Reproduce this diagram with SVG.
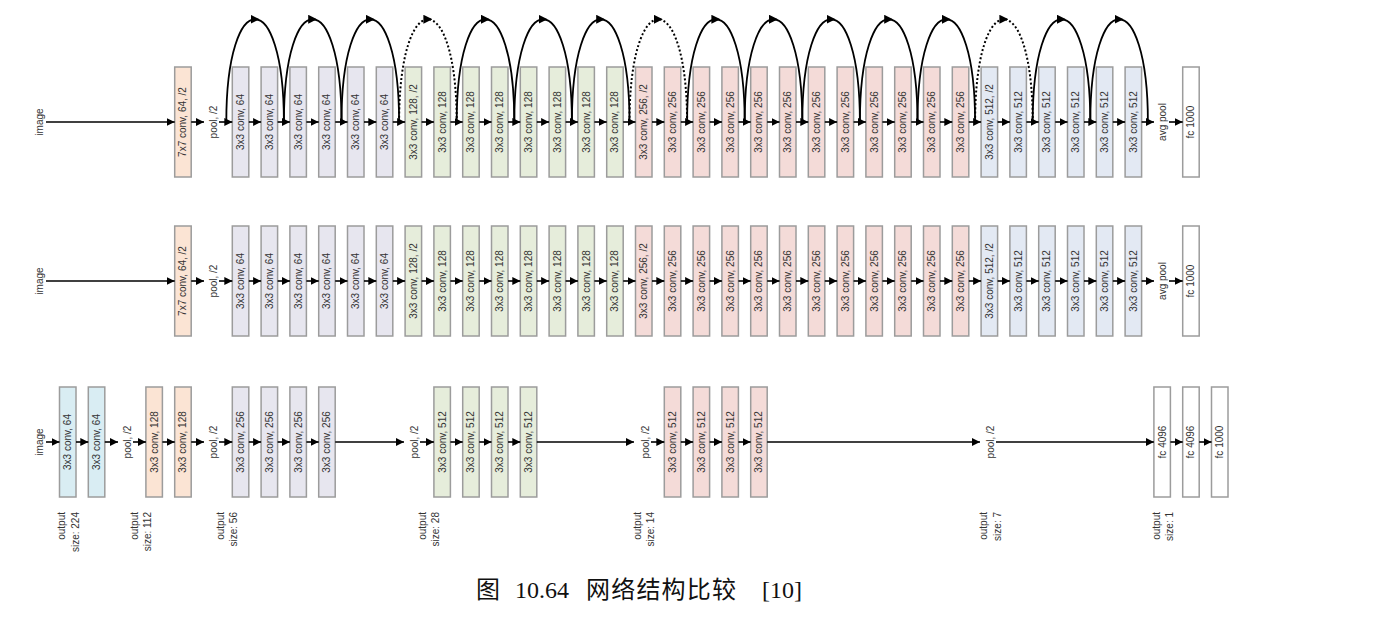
<svg xmlns="http://www.w3.org/2000/svg" width="1377" height="621" viewBox="0 0 1377 621">
<style>
.n rect{stroke:#9c9c9c;stroke-width:1.5}
.n text,.lb{font-family:"Liberation Sans",Arial,sans-serif;font-size:10px;fill:#333;text-anchor:middle;dominant-baseline:central}
.g64 rect{fill:#e7e6ef}
.g128 rect{fill:#e6eddb}
.g256 rect{fill:#f4dbd8}
.g512 rect{fill:#e3e9f3}
.g7 rect{fill:#fbe4d4}
.gcy rect{fill:#d9edf3}
.gfc rect{fill:#ffffff}
.a{stroke:#000;stroke-width:1.6;fill:none;marker-end:url(#ah)}
.arc{stroke:#000;stroke-width:1.8;fill:none;marker-mid:url(#am)}
.dot{stroke-dasharray:2 2.2;stroke-width:2}
.o{font-family:"Liberation Sans",Arial,sans-serif;font-size:10px;fill:#333;text-anchor:end;dominant-baseline:central}
.cap{font-family:"Liberation Serif","Noto Sans CJK SC",serif;font-size:24px;fill:#111}
.cj{font-family:"Noto Sans CJK SC",sans-serif;font-size:24px;letter-spacing:1.2px}
</style>
<defs>
<marker id="ah" viewBox="0 0 10 10" refX="10" refY="5" markerWidth="8" markerHeight="8" markerUnits="userSpaceOnUse" orient="auto"><path d="M0,0 L10,5 L0,10 z" fill="#000"/></marker>
<marker id="am" viewBox="0 0 10 10" refX="5" refY="5" markerWidth="9" markerHeight="9" markerUnits="userSpaceOnUse" orient="auto"><path d="M0,0 L10,5 L0,10 z" fill="#000"/></marker>
</defs>

<!-- ================= TOP ROW (residual) ================= -->
<g id="t-image"><text class="lb" transform="translate(39,122) rotate(-90)">image</text></g>
<g id="t-conv7" class="n g7" transform="translate(174.7,67)"><rect width="16.5" height="110"/><text transform="translate(8.25,55) rotate(-90)">7x7 conv, 64, /2</text></g>
<g id="t-pool"><text class="lb" transform="translate(213,122) rotate(-90)">pool, /2</text></g>
<g id="t-c0" class="n g64" transform="translate(232.3,67)"><rect width="16.5" height="110"/><text transform="translate(8.25,55) rotate(-90)">3x3 conv, 64</text></g>
<g id="t-c1" class="n g64" transform="translate(261.1,67)"><rect width="16.5" height="110"/><text transform="translate(8.25,55) rotate(-90)">3x3 conv, 64</text></g>
<g id="t-c2" class="n g64" transform="translate(289.9,67)"><rect width="16.5" height="110"/><text transform="translate(8.25,55) rotate(-90)">3x3 conv, 64</text></g>
<g id="t-c3" class="n g64" transform="translate(318.7,67)"><rect width="16.5" height="110"/><text transform="translate(8.25,55) rotate(-90)">3x3 conv, 64</text></g>
<g id="t-c4" class="n g64" transform="translate(347.5,67)"><rect width="16.5" height="110"/><text transform="translate(8.25,55) rotate(-90)">3x3 conv, 64</text></g>
<g id="t-c5" class="n g64" transform="translate(376.3,67)"><rect width="16.5" height="110"/><text transform="translate(8.25,55) rotate(-90)">3x3 conv, 64</text></g>
<g id="t-c6" class="n g128" transform="translate(405.1,67)"><rect width="16.5" height="110"/><text transform="translate(8.25,55) rotate(-90)">3x3 conv, 128, /2</text></g>
<g id="t-c7" class="n g128" transform="translate(433.9,67)"><rect width="16.5" height="110"/><text transform="translate(8.25,55) rotate(-90)">3x3 conv, 128</text></g>
<g id="t-c8" class="n g128" transform="translate(462.7,67)"><rect width="16.5" height="110"/><text transform="translate(8.25,55) rotate(-90)">3x3 conv, 128</text></g>
<g id="t-c9" class="n g128" transform="translate(491.5,67)"><rect width="16.5" height="110"/><text transform="translate(8.25,55) rotate(-90)">3x3 conv, 128</text></g>
<g id="t-c10" class="n g128" transform="translate(520.3,67)"><rect width="16.5" height="110"/><text transform="translate(8.25,55) rotate(-90)">3x3 conv, 128</text></g>
<g id="t-c11" class="n g128" transform="translate(549.1,67)"><rect width="16.5" height="110"/><text transform="translate(8.25,55) rotate(-90)">3x3 conv, 128</text></g>
<g id="t-c12" class="n g128" transform="translate(577.9,67)"><rect width="16.5" height="110"/><text transform="translate(8.25,55) rotate(-90)">3x3 conv, 128</text></g>
<g id="t-c13" class="n g128" transform="translate(606.7,67)"><rect width="16.5" height="110"/><text transform="translate(8.25,55) rotate(-90)">3x3 conv, 128</text></g>
<g id="t-c14" class="n g256" transform="translate(635.5,67)"><rect width="16.5" height="110"/><text transform="translate(8.25,55) rotate(-90)">3x3 conv, 256, /2</text></g>
<g id="t-c15" class="n g256" transform="translate(664.3,67)"><rect width="16.5" height="110"/><text transform="translate(8.25,55) rotate(-90)">3x3 conv, 256</text></g>
<g id="t-c16" class="n g256" transform="translate(693.1,67)"><rect width="16.5" height="110"/><text transform="translate(8.25,55) rotate(-90)">3x3 conv, 256</text></g>
<g id="t-c17" class="n g256" transform="translate(721.9,67)"><rect width="16.5" height="110"/><text transform="translate(8.25,55) rotate(-90)">3x3 conv, 256</text></g>
<g id="t-c18" class="n g256" transform="translate(750.7,67)"><rect width="16.5" height="110"/><text transform="translate(8.25,55) rotate(-90)">3x3 conv, 256</text></g>
<g id="t-c19" class="n g256" transform="translate(779.5,67)"><rect width="16.5" height="110"/><text transform="translate(8.25,55) rotate(-90)">3x3 conv, 256</text></g>
<g id="t-c20" class="n g256" transform="translate(808.3,67)"><rect width="16.5" height="110"/><text transform="translate(8.25,55) rotate(-90)">3x3 conv, 256</text></g>
<g id="t-c21" class="n g256" transform="translate(837.1,67)"><rect width="16.5" height="110"/><text transform="translate(8.25,55) rotate(-90)">3x3 conv, 256</text></g>
<g id="t-c22" class="n g256" transform="translate(865.9,67)"><rect width="16.5" height="110"/><text transform="translate(8.25,55) rotate(-90)">3x3 conv, 256</text></g>
<g id="t-c23" class="n g256" transform="translate(894.7,67)"><rect width="16.5" height="110"/><text transform="translate(8.25,55) rotate(-90)">3x3 conv, 256</text></g>
<g id="t-c24" class="n g256" transform="translate(923.5,67)"><rect width="16.5" height="110"/><text transform="translate(8.25,55) rotate(-90)">3x3 conv, 256</text></g>
<g id="t-c25" class="n g256" transform="translate(952.3,67)"><rect width="16.5" height="110"/><text transform="translate(8.25,55) rotate(-90)">3x3 conv, 256</text></g>
<g id="t-c26" class="n g512" transform="translate(981.1,67)"><rect width="16.5" height="110"/><text transform="translate(8.25,55) rotate(-90)">3x3 conv, 512, /2</text></g>
<g id="t-c27" class="n g512" transform="translate(1009.9,67)"><rect width="16.5" height="110"/><text transform="translate(8.25,55) rotate(-90)">3x3 conv, 512</text></g>
<g id="t-c28" class="n g512" transform="translate(1038.7,67)"><rect width="16.5" height="110"/><text transform="translate(8.25,55) rotate(-90)">3x3 conv, 512</text></g>
<g id="t-c29" class="n g512" transform="translate(1067.5,67)"><rect width="16.5" height="110"/><text transform="translate(8.25,55) rotate(-90)">3x3 conv, 512</text></g>
<g id="t-c30" class="n g512" transform="translate(1096.3,67)"><rect width="16.5" height="110"/><text transform="translate(8.25,55) rotate(-90)">3x3 conv, 512</text></g>
<g id="t-c31" class="n g512" transform="translate(1125.1,67)"><rect width="16.5" height="110"/><text transform="translate(8.25,55) rotate(-90)">3x3 conv, 512</text></g>
<g id="t-avgpool"><text class="lb" transform="translate(1162,122) rotate(-90)">avg pool</text></g>
<g id="t-fc" class="n gfc" transform="translate(1182.7,67)"><rect width="16.5" height="110"/><text transform="translate(8.25,55) rotate(-90)">fc 1000</text></g>

<!-- ================= MIDDLE ROW (plain) ================= -->
<g id="m-image"><text class="lb" transform="translate(39,281) rotate(-90)">image</text></g>
<g id="m-conv7" class="n g7" transform="translate(174.7,226)"><rect width="16.5" height="110"/><text transform="translate(8.25,55) rotate(-90)">7x7 conv, 64, /2</text></g>
<g id="m-pool"><text class="lb" transform="translate(213,281) rotate(-90)">pool, /2</text></g>
<g id="m-c0" class="n g64" transform="translate(232.3,226)"><rect width="16.5" height="110"/><text transform="translate(8.25,55) rotate(-90)">3x3 conv, 64</text></g>
<g id="m-c1" class="n g64" transform="translate(261.1,226)"><rect width="16.5" height="110"/><text transform="translate(8.25,55) rotate(-90)">3x3 conv, 64</text></g>
<g id="m-c2" class="n g64" transform="translate(289.9,226)"><rect width="16.5" height="110"/><text transform="translate(8.25,55) rotate(-90)">3x3 conv, 64</text></g>
<g id="m-c3" class="n g64" transform="translate(318.7,226)"><rect width="16.5" height="110"/><text transform="translate(8.25,55) rotate(-90)">3x3 conv, 64</text></g>
<g id="m-c4" class="n g64" transform="translate(347.5,226)"><rect width="16.5" height="110"/><text transform="translate(8.25,55) rotate(-90)">3x3 conv, 64</text></g>
<g id="m-c5" class="n g64" transform="translate(376.3,226)"><rect width="16.5" height="110"/><text transform="translate(8.25,55) rotate(-90)">3x3 conv, 64</text></g>
<g id="m-c6" class="n g128" transform="translate(405.1,226)"><rect width="16.5" height="110"/><text transform="translate(8.25,55) rotate(-90)">3x3 conv, 128, /2</text></g>
<g id="m-c7" class="n g128" transform="translate(433.9,226)"><rect width="16.5" height="110"/><text transform="translate(8.25,55) rotate(-90)">3x3 conv, 128</text></g>
<g id="m-c8" class="n g128" transform="translate(462.7,226)"><rect width="16.5" height="110"/><text transform="translate(8.25,55) rotate(-90)">3x3 conv, 128</text></g>
<g id="m-c9" class="n g128" transform="translate(491.5,226)"><rect width="16.5" height="110"/><text transform="translate(8.25,55) rotate(-90)">3x3 conv, 128</text></g>
<g id="m-c10" class="n g128" transform="translate(520.3,226)"><rect width="16.5" height="110"/><text transform="translate(8.25,55) rotate(-90)">3x3 conv, 128</text></g>
<g id="m-c11" class="n g128" transform="translate(549.1,226)"><rect width="16.5" height="110"/><text transform="translate(8.25,55) rotate(-90)">3x3 conv, 128</text></g>
<g id="m-c12" class="n g128" transform="translate(577.9,226)"><rect width="16.5" height="110"/><text transform="translate(8.25,55) rotate(-90)">3x3 conv, 128</text></g>
<g id="m-c13" class="n g128" transform="translate(606.7,226)"><rect width="16.5" height="110"/><text transform="translate(8.25,55) rotate(-90)">3x3 conv, 128</text></g>
<g id="m-c14" class="n g256" transform="translate(635.5,226)"><rect width="16.5" height="110"/><text transform="translate(8.25,55) rotate(-90)">3x3 conv, 256, /2</text></g>
<g id="m-c15" class="n g256" transform="translate(664.3,226)"><rect width="16.5" height="110"/><text transform="translate(8.25,55) rotate(-90)">3x3 conv, 256</text></g>
<g id="m-c16" class="n g256" transform="translate(693.1,226)"><rect width="16.5" height="110"/><text transform="translate(8.25,55) rotate(-90)">3x3 conv, 256</text></g>
<g id="m-c17" class="n g256" transform="translate(721.9,226)"><rect width="16.5" height="110"/><text transform="translate(8.25,55) rotate(-90)">3x3 conv, 256</text></g>
<g id="m-c18" class="n g256" transform="translate(750.7,226)"><rect width="16.5" height="110"/><text transform="translate(8.25,55) rotate(-90)">3x3 conv, 256</text></g>
<g id="m-c19" class="n g256" transform="translate(779.5,226)"><rect width="16.5" height="110"/><text transform="translate(8.25,55) rotate(-90)">3x3 conv, 256</text></g>
<g id="m-c20" class="n g256" transform="translate(808.3,226)"><rect width="16.5" height="110"/><text transform="translate(8.25,55) rotate(-90)">3x3 conv, 256</text></g>
<g id="m-c21" class="n g256" transform="translate(837.1,226)"><rect width="16.5" height="110"/><text transform="translate(8.25,55) rotate(-90)">3x3 conv, 256</text></g>
<g id="m-c22" class="n g256" transform="translate(865.9,226)"><rect width="16.5" height="110"/><text transform="translate(8.25,55) rotate(-90)">3x3 conv, 256</text></g>
<g id="m-c23" class="n g256" transform="translate(894.7,226)"><rect width="16.5" height="110"/><text transform="translate(8.25,55) rotate(-90)">3x3 conv, 256</text></g>
<g id="m-c24" class="n g256" transform="translate(923.5,226)"><rect width="16.5" height="110"/><text transform="translate(8.25,55) rotate(-90)">3x3 conv, 256</text></g>
<g id="m-c25" class="n g256" transform="translate(952.3,226)"><rect width="16.5" height="110"/><text transform="translate(8.25,55) rotate(-90)">3x3 conv, 256</text></g>
<g id="m-c26" class="n g512" transform="translate(981.1,226)"><rect width="16.5" height="110"/><text transform="translate(8.25,55) rotate(-90)">3x3 conv, 512, /2</text></g>
<g id="m-c27" class="n g512" transform="translate(1009.9,226)"><rect width="16.5" height="110"/><text transform="translate(8.25,55) rotate(-90)">3x3 conv, 512</text></g>
<g id="m-c28" class="n g512" transform="translate(1038.7,226)"><rect width="16.5" height="110"/><text transform="translate(8.25,55) rotate(-90)">3x3 conv, 512</text></g>
<g id="m-c29" class="n g512" transform="translate(1067.5,226)"><rect width="16.5" height="110"/><text transform="translate(8.25,55) rotate(-90)">3x3 conv, 512</text></g>
<g id="m-c30" class="n g512" transform="translate(1096.3,226)"><rect width="16.5" height="110"/><text transform="translate(8.25,55) rotate(-90)">3x3 conv, 512</text></g>
<g id="m-c31" class="n g512" transform="translate(1125.1,226)"><rect width="16.5" height="110"/><text transform="translate(8.25,55) rotate(-90)">3x3 conv, 512</text></g>
<g id="m-avgpool"><text class="lb" transform="translate(1162,281) rotate(-90)">avg pool</text></g>
<g id="m-fc" class="n gfc" transform="translate(1182.7,226)"><rect width="16.5" height="110"/><text transform="translate(8.25,55) rotate(-90)">fc 1000</text></g>

<!-- ================= BOTTOM ROW (VGG) ================= -->
<g id="b-image"><text class="lb" transform="translate(39,442) rotate(-90)">image</text></g>
<g id="b-c1" class="n gcy" transform="translate(59.5,387)"><rect width="16.5" height="110"/><text transform="translate(8.25,55) rotate(-90)">3x3 conv, 64</text></g>
<g id="b-c2" class="n gcy" transform="translate(88.3,387)"><rect width="16.5" height="110"/><text transform="translate(8.25,55) rotate(-90)">3x3 conv, 64</text></g>
<g id="b-pool1"><text class="lb" transform="translate(127,442) rotate(-90)">pool, /2</text></g>
<g id="b-c3" class="n g7" transform="translate(145.9,387)"><rect width="16.5" height="110"/><text transform="translate(8.25,55) rotate(-90)">3x3 conv, 128</text></g>
<g id="b-c4" class="n g7" transform="translate(174.7,387)"><rect width="16.5" height="110"/><text transform="translate(8.25,55) rotate(-90)">3x3 conv, 128</text></g>
<g id="b-pool2"><text class="lb" transform="translate(213,442) rotate(-90)">pool, /2</text></g>
<g id="b-c5" class="n g64" transform="translate(232.3,387)"><rect width="16.5" height="110"/><text transform="translate(8.25,55) rotate(-90)">3x3 conv, 256</text></g>
<g id="b-c6" class="n g64" transform="translate(261.1,387)"><rect width="16.5" height="110"/><text transform="translate(8.25,55) rotate(-90)">3x3 conv, 256</text></g>
<g id="b-c7" class="n g64" transform="translate(289.9,387)"><rect width="16.5" height="110"/><text transform="translate(8.25,55) rotate(-90)">3x3 conv, 256</text></g>
<g id="b-c8" class="n g64" transform="translate(318.7,387)"><rect width="16.5" height="110"/><text transform="translate(8.25,55) rotate(-90)">3x3 conv, 256</text></g>
<g id="b-pool3"><text class="lb" transform="translate(414,442) rotate(-90)">pool, /2</text></g>
<g id="b-c9" class="n g128" transform="translate(433.9,387)"><rect width="16.5" height="110"/><text transform="translate(8.25,55) rotate(-90)">3x3 conv, 512</text></g>
<g id="b-c10" class="n g128" transform="translate(462.7,387)"><rect width="16.5" height="110"/><text transform="translate(8.25,55) rotate(-90)">3x3 conv, 512</text></g>
<g id="b-c11" class="n g128" transform="translate(491.5,387)"><rect width="16.5" height="110"/><text transform="translate(8.25,55) rotate(-90)">3x3 conv, 512</text></g>
<g id="b-c12" class="n g128" transform="translate(520.3,387)"><rect width="16.5" height="110"/><text transform="translate(8.25,55) rotate(-90)">3x3 conv, 512</text></g>
<g id="b-pool4"><text class="lb" transform="translate(645,442) rotate(-90)">pool, /2</text></g>
<g id="b-c13" class="n g256" transform="translate(664.3,387)"><rect width="16.5" height="110"/><text transform="translate(8.25,55) rotate(-90)">3x3 conv, 512</text></g>
<g id="b-c14" class="n g256" transform="translate(693.1,387)"><rect width="16.5" height="110"/><text transform="translate(8.25,55) rotate(-90)">3x3 conv, 512</text></g>
<g id="b-c15" class="n g256" transform="translate(721.9,387)"><rect width="16.5" height="110"/><text transform="translate(8.25,55) rotate(-90)">3x3 conv, 512</text></g>
<g id="b-c16" class="n g256" transform="translate(750.7,387)"><rect width="16.5" height="110"/><text transform="translate(8.25,55) rotate(-90)">3x3 conv, 512</text></g>
<g id="b-pool5"><text class="lb" transform="translate(990,442) rotate(-90)">pool, /2</text></g>
<g id="b-fc1" class="n gfc" transform="translate(1153.9,387)"><rect width="16.5" height="110"/><text transform="translate(8.25,55) rotate(-90)">fc 4096</text></g>
<g id="b-fc2" class="n gfc" transform="translate(1182.7,387)"><rect width="16.5" height="110"/><text transform="translate(8.25,55) rotate(-90)">fc 4096</text></g>
<g id="b-fc3" class="n gfc" transform="translate(1211.5,387)"><rect width="16.5" height="110"/><text transform="translate(8.25,55) rotate(-90)">fc 1000</text></g>

<!-- output size labels -->
<g id="out224" transform="translate(61,512) rotate(-90)"><text class="o" x="0" y="0">output</text><text class="o" x="0" y="14">size: 224</text></g>
<g id="out112" transform="translate(134,512) rotate(-90)"><text class="o" x="0" y="0">output</text><text class="o" x="0" y="13">size: 112</text></g>
<g id="out56" transform="translate(220,512) rotate(-90)"><text class="o" x="0" y="0">output</text><text class="o" x="0" y="13">size: 56</text></g>
<g id="out28" transform="translate(422,512) rotate(-90)"><text class="o" x="0" y="0">output</text><text class="o" x="0" y="13">size: 28</text></g>
<g id="out14" transform="translate(637,512) rotate(-90)"><text class="o" x="0" y="0">output</text><text class="o" x="0" y="13">size: 14</text></g>
<g id="out7" transform="translate(983,512) rotate(-90)"><text class="o" x="0" y="0">output</text><text class="o" x="0" y="14">size: 7</text></g>
<g id="out1" transform="translate(1156,512) rotate(-90)"><text class="o" x="0" y="0">output</text><text class="o" x="0" y="13">size: 1</text></g>

<!-- ================= CONNECTORS ================= -->
<g id="connectors">
<!-- top row chain -->
<line class="a" x1="46" y1="122" x2="174.7" y2="122"/>
<line class="a" x1="191.2" y1="122" x2="204" y2="122"/>
<line class="a" x1="219" y1="122" x2="232.3" y2="122"/>
<line class="a" x1="248.8" y1="122" x2="261.1" y2="122"/>
<line class="a" x1="277.6" y1="122" x2="289.9" y2="122"/>
<line class="a" x1="306.4" y1="122" x2="318.7" y2="122"/>
<line class="a" x1="335.2" y1="122" x2="347.5" y2="122"/>
<line class="a" x1="364" y1="122" x2="376.3" y2="122"/>
<line class="a" x1="392.8" y1="122" x2="405.1" y2="122"/>
<line class="a" x1="421.6" y1="122" x2="433.9" y2="122"/>
<line class="a" x1="450.4" y1="122" x2="462.7" y2="122"/>
<line class="a" x1="479.2" y1="122" x2="491.5" y2="122"/>
<line class="a" x1="508" y1="122" x2="520.3" y2="122"/>
<line class="a" x1="536.8" y1="122" x2="549.1" y2="122"/>
<line class="a" x1="565.6" y1="122" x2="577.9" y2="122"/>
<line class="a" x1="594.4" y1="122" x2="606.7" y2="122"/>
<line class="a" x1="623.2" y1="122" x2="635.5" y2="122"/>
<line class="a" x1="652" y1="122" x2="664.3" y2="122"/>
<line class="a" x1="680.8" y1="122" x2="693.1" y2="122"/>
<line class="a" x1="709.6" y1="122" x2="721.9" y2="122"/>
<line class="a" x1="738.4" y1="122" x2="750.7" y2="122"/>
<line class="a" x1="767.2" y1="122" x2="779.5" y2="122"/>
<line class="a" x1="796" y1="122" x2="808.3" y2="122"/>
<line class="a" x1="824.8" y1="122" x2="837.1" y2="122"/>
<line class="a" x1="853.6" y1="122" x2="865.9" y2="122"/>
<line class="a" x1="882.4" y1="122" x2="894.7" y2="122"/>
<line class="a" x1="911.2" y1="122" x2="923.5" y2="122"/>
<line class="a" x1="940" y1="122" x2="952.3" y2="122"/>
<line class="a" x1="968.8" y1="122" x2="981.1" y2="122"/>
<line class="a" x1="997.6" y1="122" x2="1009.9" y2="122"/>
<line class="a" x1="1026.4" y1="122" x2="1038.7" y2="122"/>
<line class="a" x1="1055.2" y1="122" x2="1067.5" y2="122"/>
<line class="a" x1="1084" y1="122" x2="1096.3" y2="122"/>
<line class="a" x1="1112.8" y1="122" x2="1125.1" y2="122"/>
<line class="a" x1="1141.6" y1="122" x2="1154" y2="122"/>
<line class="a" x1="1169" y1="122" x2="1182.7" y2="122"/>
<!-- top row skip arcs -->
<path class="arc" d="M226.3,122 c0,-68.5 14.4,-102.75 28.8,-102.75 c14.4,0 28.8,34.25 28.8,102.75"/>
<path class="arc" d="M283.9,122 c0,-68.5 14.4,-102.75 28.8,-102.75 c14.4,0 28.8,34.25 28.8,102.75"/>
<path class="arc" d="M341.5,122 c0,-68.5 14.4,-102.75 28.8,-102.75 c14.4,0 28.8,34.25 28.8,102.75"/>
<path class="arc dot" d="M399.1,122 c0,-68.5 14.4,-102.75 28.8,-102.75 c14.4,0 28.8,34.25 28.8,102.75"/>
<path class="arc" d="M456.7,122 c0,-68.5 14.4,-102.75 28.8,-102.75 c14.4,0 28.8,34.25 28.8,102.75"/>
<path class="arc" d="M514.3,122 c0,-68.5 14.4,-102.75 28.8,-102.75 c14.4,0 28.8,34.25 28.8,102.75"/>
<path class="arc" d="M571.9,122 c0,-68.5 14.4,-102.75 28.8,-102.75 c14.4,0 28.8,34.25 28.8,102.75"/>
<path class="arc dot" d="M629.5,122 c0,-68.5 14.4,-102.75 28.8,-102.75 c14.4,0 28.8,34.25 28.8,102.75"/>
<path class="arc" d="M687.1,122 c0,-68.5 14.4,-102.75 28.8,-102.75 c14.4,0 28.8,34.25 28.8,102.75"/>
<path class="arc" d="M744.7,122 c0,-68.5 14.4,-102.75 28.8,-102.75 c14.4,0 28.8,34.25 28.8,102.75"/>
<path class="arc" d="M802.3,122 c0,-68.5 14.4,-102.75 28.8,-102.75 c14.4,0 28.8,34.25 28.8,102.75"/>
<path class="arc" d="M859.9,122 c0,-68.5 14.4,-102.75 28.8,-102.75 c14.4,0 28.8,34.25 28.8,102.75"/>
<path class="arc" d="M917.5,122 c0,-68.5 14.4,-102.75 28.8,-102.75 c14.4,0 28.8,34.25 28.8,102.75"/>
<path class="arc dot" d="M975.1,122 c0,-68.5 14.4,-102.75 28.8,-102.75 c14.4,0 28.8,34.25 28.8,102.75"/>
<path class="arc" d="M1032.7,122 c0,-68.5 14.4,-102.75 28.8,-102.75 c14.4,0 28.8,34.25 28.8,102.75"/>
<path class="arc" d="M1090.3,122 c0,-68.5 14.4,-102.75 28.8,-102.75 c14.4,0 28.8,34.25 28.8,102.75"/>
<!-- middle row chain -->
<line class="a" x1="46" y1="281" x2="174.7" y2="281"/>
<line class="a" x1="191.2" y1="281" x2="204" y2="281"/>
<line class="a" x1="219" y1="281" x2="232.3" y2="281"/>
<line class="a" x1="248.8" y1="281" x2="261.1" y2="281"/>
<line class="a" x1="277.6" y1="281" x2="289.9" y2="281"/>
<line class="a" x1="306.4" y1="281" x2="318.7" y2="281"/>
<line class="a" x1="335.2" y1="281" x2="347.5" y2="281"/>
<line class="a" x1="364" y1="281" x2="376.3" y2="281"/>
<line class="a" x1="392.8" y1="281" x2="405.1" y2="281"/>
<line class="a" x1="421.6" y1="281" x2="433.9" y2="281"/>
<line class="a" x1="450.4" y1="281" x2="462.7" y2="281"/>
<line class="a" x1="479.2" y1="281" x2="491.5" y2="281"/>
<line class="a" x1="508" y1="281" x2="520.3" y2="281"/>
<line class="a" x1="536.8" y1="281" x2="549.1" y2="281"/>
<line class="a" x1="565.6" y1="281" x2="577.9" y2="281"/>
<line class="a" x1="594.4" y1="281" x2="606.7" y2="281"/>
<line class="a" x1="623.2" y1="281" x2="635.5" y2="281"/>
<line class="a" x1="652" y1="281" x2="664.3" y2="281"/>
<line class="a" x1="680.8" y1="281" x2="693.1" y2="281"/>
<line class="a" x1="709.6" y1="281" x2="721.9" y2="281"/>
<line class="a" x1="738.4" y1="281" x2="750.7" y2="281"/>
<line class="a" x1="767.2" y1="281" x2="779.5" y2="281"/>
<line class="a" x1="796" y1="281" x2="808.3" y2="281"/>
<line class="a" x1="824.8" y1="281" x2="837.1" y2="281"/>
<line class="a" x1="853.6" y1="281" x2="865.9" y2="281"/>
<line class="a" x1="882.4" y1="281" x2="894.7" y2="281"/>
<line class="a" x1="911.2" y1="281" x2="923.5" y2="281"/>
<line class="a" x1="940" y1="281" x2="952.3" y2="281"/>
<line class="a" x1="968.8" y1="281" x2="981.1" y2="281"/>
<line class="a" x1="997.6" y1="281" x2="1009.9" y2="281"/>
<line class="a" x1="1026.4" y1="281" x2="1038.7" y2="281"/>
<line class="a" x1="1055.2" y1="281" x2="1067.5" y2="281"/>
<line class="a" x1="1084" y1="281" x2="1096.3" y2="281"/>
<line class="a" x1="1112.8" y1="281" x2="1125.1" y2="281"/>
<line class="a" x1="1141.6" y1="281" x2="1154" y2="281"/>
<line class="a" x1="1169" y1="281" x2="1182.7" y2="281"/>
<!-- bottom row chain -->
<line class="a" x1="46" y1="442" x2="59.5" y2="442"/>
<line class="a" x1="76" y1="442" x2="88.3" y2="442"/>
<line class="a" x1="104.8" y1="442" x2="118" y2="442"/>
<line class="a" x1="133" y1="442" x2="145.9" y2="442"/>
<line class="a" x1="162.4" y1="442" x2="174.7" y2="442"/>
<line class="a" x1="191.2" y1="442" x2="204" y2="442"/>
<line class="a" x1="219" y1="442" x2="232.3" y2="442"/>
<line class="a" x1="248.8" y1="442" x2="261.1" y2="442"/>
<line class="a" x1="277.6" y1="442" x2="289.9" y2="442"/>
<line class="a" x1="306.4" y1="442" x2="318.7" y2="442"/>
<line class="a" x1="335.2" y1="442" x2="404" y2="442"/>
<line class="a" x1="420" y1="442" x2="433.9" y2="442"/>
<line class="a" x1="450.4" y1="442" x2="462.7" y2="442"/>
<line class="a" x1="479.2" y1="442" x2="491.5" y2="442"/>
<line class="a" x1="508" y1="442" x2="520.3" y2="442"/>
<line class="a" x1="536.8" y1="442" x2="634" y2="442"/>
<line class="a" x1="651" y1="442" x2="664.3" y2="442"/>
<line class="a" x1="680.8" y1="442" x2="693.1" y2="442"/>
<line class="a" x1="709.6" y1="442" x2="721.9" y2="442"/>
<line class="a" x1="738.4" y1="442" x2="750.7" y2="442"/>
<line class="a" x1="767.2" y1="442" x2="980" y2="442"/>
<line class="a" x1="996" y1="442" x2="1153.9" y2="442"/>
<line class="a" x1="1170.4" y1="442" x2="1182.7" y2="442"/>
<line class="a" x1="1199.2" y1="442" x2="1211.5" y2="442"/>
</g>

<!-- caption -->
<text id="caption" class="cap" y="598"><tspan x="476" class="cj">图</tspan><tspan x="515">10.64</tspan><tspan x="586" class="cj">网络结构比较</tspan><tspan x="762">[10]</tspan></text>
</svg>
